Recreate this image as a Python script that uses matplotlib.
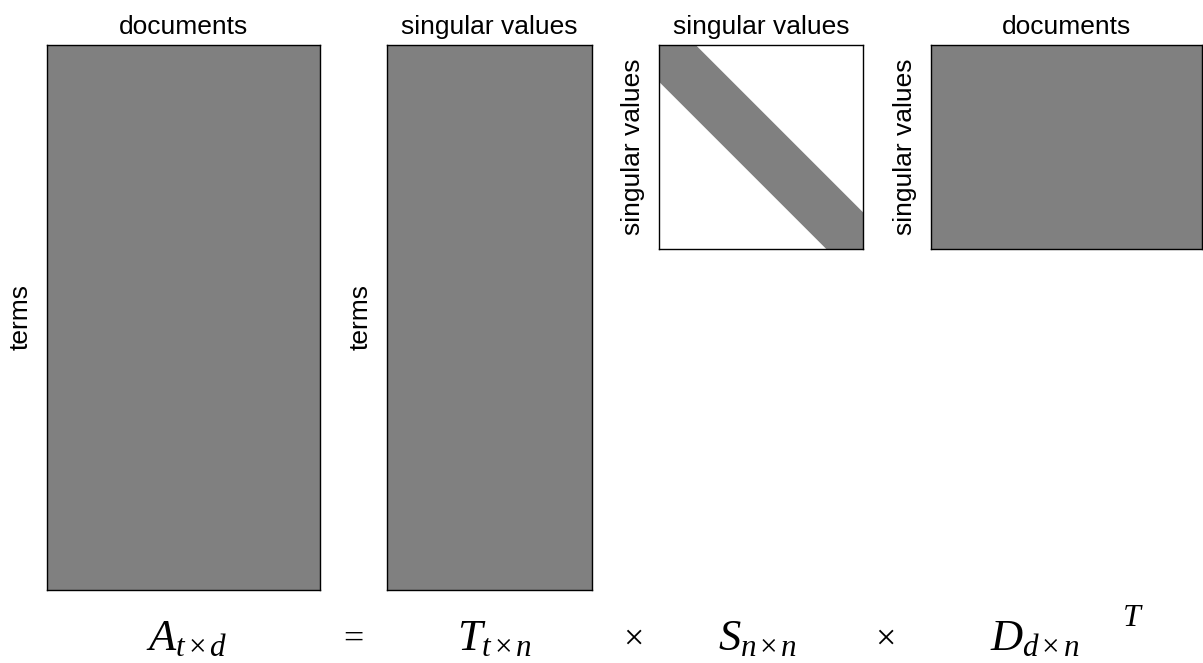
import matplotlib
matplotlib.use('Agg')
import matplotlib.pyplot as plt

plt.rcParams['font.family'] = ['Liberation Sans', 'DejaVu Sans']
plt.rcParams['mathtext.fontset'] = 'custom'
plt.rcParams['mathtext.rm'] = 'Liberation Serif'
plt.rcParams['mathtext.it'] = 'Liberation Serif:italic'

# matrices of the decomposition A = T x S x D^T
titles = ['documents', 'singular values', 'singular values', 'documents']
ylabels = ['terms', 'terms', 'singular values', 'singular values']
is_diagonal = [False, False, True, False]
band_half = 0.18  # half width of the diagonal band in S

formula = [r'$A_{t\,{\times}\,d}$', '=', r'$T_{t\,{\times}\,n}$', '×',
           r'$S_{n\,{\times}\,n}$', '×', r'$D_{d\,{\times}\,n}$']
formula_x = [146, 353, 457, 633, 718, 885, 990]

GRAY = '#808080'
W, H = 1203, 663

fig = plt.figure(figsize=(W / 100, H / 100), dpi=100)

# box extents in pixels: left, top, right, bottom
boxes = [(47, 45, 320, 590), (387, 45, 592, 590),
         (659, 45, 863, 249), (931, 45, 1202, 249)]

for i, (l, t, r, b) in enumerate(boxes):
    ax = fig.add_axes([l / W, 1 - b / H, (r - l) / W, (b - t) / H])
    ax.set_xlim(0, 1)
    ax.set_ylim(0, 1)
    ax.set_xticks([])
    ax.set_yticks([])
    if is_diagonal[i]:
        ax.set_facecolor('white')
        d = band_half
        ax.fill([0, d, 1, 1, 1 - d, 0], [1, 1, d, 0, 0, 1 - d],
                color=GRAY, lw=0)
    else:
        ax.set_facecolor(GRAY)
    for sp in ax.spines.values():
        sp.set_linewidth(1.0)
        sp.set_color('black')
    ax.set_title(titles[i], fontsize=19, pad=8)
    ax.set_ylabel(ylabels[i], fontsize=19, labelpad=10)

for txt, x in zip(formula, formula_x):
    if txt.startswith('$'):
        fig.text(x / W, 1 - 650 / H, txt, fontsize=32, ha='left', va='baseline')
    else:
        fig.text(x / W, 1 - 640 / H, txt, fontsize=26, ha='center', va='center',
                 family='Liberation Serif')

# transpose mark on D
fig.text(1122 / W, 1 - 626 / H, r'$T$', fontsize=23, ha='left', va='baseline')

fig.savefig('out.png', dpi=100)
